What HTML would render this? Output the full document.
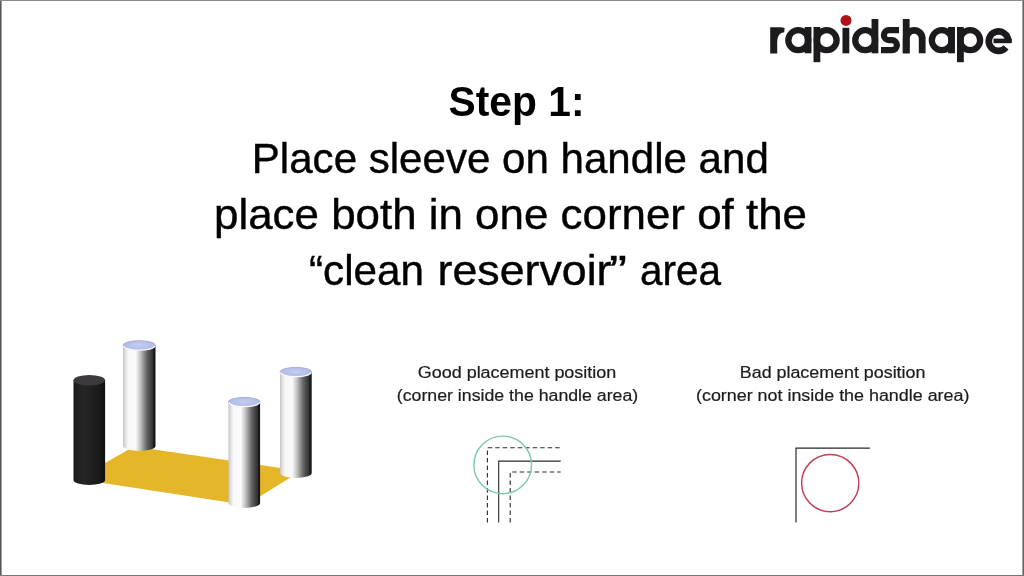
<!DOCTYPE html>
<html><head><meta charset="utf-8">
<style>
html,body{margin:0;padding:0;background:#fff;}
body{width:1024px;height:576px;overflow:hidden;position:relative;font-family:"Liberation Sans",sans-serif;}
svg{position:absolute;left:0;top:0;filter:blur(0.35px);}
</style></head>
<body>
<svg width="1024" height="576" viewBox="0 0 1024 576">
<defs>
  <linearGradient id="wbody" x1="0" y1="0" x2="1" y2="0">
    <stop offset="0" stop-color="#c4c4c8"/>
    <stop offset="0.06" stop-color="#dcdce0"/>
    <stop offset="0.16" stop-color="#f8f8fa"/>
    <stop offset="0.39" stop-color="#fafafa"/>
    <stop offset="0.45" stop-color="#e2e2e2"/>
    <stop offset="0.54" stop-color="#c0c0c0"/>
    <stop offset="0.64" stop-color="#909090"/>
    <stop offset="0.74" stop-color="#626262"/>
    <stop offset="0.85" stop-color="#424242"/>
    <stop offset="0.92" stop-color="#303030"/>
    <stop offset="0.94" stop-color="#1a1a1a"/>
    <stop offset="1" stop-color="#161616"/>
  </linearGradient>
  <linearGradient id="bbody" x1="0" y1="0" x2="1" y2="0">
    <stop offset="0" stop-color="#1a1a1a"/>
    <stop offset="0.3" stop-color="#262626"/>
    <stop offset="0.8" stop-color="#1a1a1a"/>
    <stop offset="1" stop-color="#0e0e0e"/>
  </linearGradient>
  <radialGradient id="wtop" cx="0.5" cy="0.45" r="0.6">
    <stop offset="0" stop-color="#c4cdf2"/>
    <stop offset="1" stop-color="#aab6e6"/>
  </radialGradient>
</defs>
<rect x="0" y="0" width="1024" height="576" fill="#fff"/>

<!-- logo -->
<g fill="#1c1a1d" stroke="none">
  <path d="M770.2 53.5V27.3H780Q783 27.3 784.6 28L784.2 32.2Q777.2 32.6 777.2 42V53.5Z"/>
  <rect x="804.65" y="27" width="6.8" height="26.3"/>
  <rect x="813.5" y="27" width="6.8" height="35.2"/>
  <rect x="842.5" y="27.8" width="6.8" height="25.5"/>
  <rect x="871.55" y="19" width="6.8" height="34.3"/>
  <rect x="902.8" y="19" width="6.8" height="34.3"/>
  <rect x="948.15" y="27" width="6.8" height="26.3"/>
  <rect x="957" y="27" width="6.8" height="35.2"/>
</g>
<g fill="none" stroke="#1c1a1d" stroke-width="6.8">
  <circle cx="798.3" cy="40.15" r="9.95" stroke-width="6.3"/>
  <circle cx="826.65" cy="40.15" r="9.95" stroke-width="6.3"/>
  <circle cx="865.2" cy="40.15" r="9.95" stroke-width="6.3"/>
  <path stroke-width="6.2" d="M899 30.1H888.9A5.025 5.025 0 0 0 888.9 40.15H891.9A5.025 5.025 0 0 1 891.9 50.2H881"/>
  <path d="M906.2 53.3V38.4A8 8 0 0 1 922.2 38.4V53.3"/>
  <circle cx="941.8" cy="40.15" r="9.95" stroke-width="6.3"/>
  <circle cx="970.15" cy="40.15" r="9.95" stroke-width="6.3"/>
  <path stroke-width="6.6" d="M1008.25 40.8A9.75 9.75 0 1 0 1006 47.4"/>
</g>
<rect x="993.5" y="38.6" width="18.3" height="4.6" fill="#1c1a1d"/>
<circle cx="846" cy="20.4" r="5.5" fill="#b0121b"/>

<!-- title -->
<g fill="#000" stroke="#000" stroke-width="0.4" font-family="Liberation Sans, sans-serif">
  <text x="448.5" y="116" font-size="43" font-weight="bold" stroke="none" textLength="136" lengthAdjust="spacingAndGlyphs">Step 1:</text>
  <text x="251.8" y="172.5" font-size="43" textLength="517" lengthAdjust="spacingAndGlyphs">Place sleeve on handle and</text>
  <text x="214" y="229" font-size="43" textLength="593" lengthAdjust="spacingAndGlyphs">place both in one corner of the</text>
  <text x="309" y="285" font-size="43" textLength="115" lengthAdjust="spacingAndGlyphs">“clean</text><text x="437.5" y="285" font-size="43" textLength="174" lengthAdjust="spacingAndGlyphs">reservoir</text><text x="609" y="285" font-size="43" textLength="18" lengthAdjust="spacingAndGlyphs">”</text><text x="640" y="285" font-size="43" textLength="81" lengthAdjust="spacingAndGlyphs">area</text>
</g>

<!-- yellow floor -->
<polygon points="134,446.5 301,471 246,505 77,479" fill="#e4b628"/>

<!-- cylinders -->
<!-- back-left white -->
<g>
  <path d="M123 345.4V446A16.25 5 0 0 0 155.5 446V345.4Z" fill="url(#wbody)"/>
  <ellipse cx="139.25" cy="345.4" rx="16.25" ry="4.7" fill="url(#wtop)" stroke="#9ea6c6" stroke-width="0.8"/><path d="M123.6 345.7A15.65 4.4 0 0 0 154.9 345.7" fill="none" stroke="#fbfbff" stroke-width="1.3"/>
</g>
<!-- black -->
<g>
  <path d="M73.5 380.2V480A15.8 5 0 0 0 105.1 480V380.2Z" fill="url(#bbody)"/>
  <ellipse cx="89.3" cy="380.2" rx="15.8" ry="5.2" fill="#3c3a3c"/>
</g>
<!-- back-right white -->
<g>
  <path d="M280 372V473A15.85 5 0 0 0 311.7 473V372Z" fill="url(#wbody)"/>
  <ellipse cx="295.85" cy="372.0" rx="15.85" ry="4.6" fill="url(#wtop)" stroke="#9ea6c6" stroke-width="0.8"/><path d="M280.6 372.3A15.25 4.3 0 0 0 311.1 372.3" fill="none" stroke="#fbfbff" stroke-width="1.3"/>
</g>
<!-- front white -->
<g>
  <path d="M228.4 402V503A15.85 5 0 0 0 260.1 503V402Z" fill="url(#wbody)"/>
  <ellipse cx="244.25" cy="402.0" rx="15.85" ry="4.6" fill="url(#wtop)" stroke="#9ea6c6" stroke-width="0.8"/><path d="M229.0 402.3A15.25 4.3 0 0 0 259.5 402.3" fill="none" stroke="#fbfbff" stroke-width="1.3"/>
</g>

<!-- captions -->
<g fill="#1c1c1c" stroke="#1c1c1c" stroke-width="0.2" font-family="Liberation Sans, sans-serif" font-size="16">
  <text x="417.8" y="378" textLength="198.4" lengthAdjust="spacingAndGlyphs">Good placement position</text>
  <text x="396.8" y="401" textLength="241.4" lengthAdjust="spacingAndGlyphs">(corner inside the handle area)</text>
  <text x="739.8" y="378" textLength="185.6" lengthAdjust="spacingAndGlyphs">Bad placement position</text>
  <text x="696" y="401" textLength="273.4" lengthAdjust="spacingAndGlyphs">(corner not inside the handle area)</text>
</g>

<!-- good diagram -->
<g fill="none" stroke="#2a2a2a" stroke-width="1.1">
  <path d="M487.4 522.5V447.8H560.7" stroke-dasharray="4.5 3"/>
  <path d="M498.7 522.5V461.1H560.7"/>
  <path d="M510.2 522.5V472H560.7" stroke-dasharray="4.5 3"/>
</g>
<circle cx="502.7" cy="464.9" r="28.8" fill="none" stroke="#7ec8ad" stroke-width="1.45"/>

<!-- bad diagram -->
<path d="M796 522.4V448.2H869.9" fill="none" stroke="#2a2a2a" stroke-width="1.2"/>
<circle cx="830.2" cy="483.1" r="28.6" fill="none" stroke="#c23c58" stroke-width="1.45"/>

<!-- frame border -->
<rect x="0" y="0" width="1" height="576" fill="#555"/>
<rect x="1" y="0" width="1" height="576" fill="#a0a0a0"/>
<rect x="0" y="0" width="1024" height="1" fill="#8a8a8a"/>
<rect x="1022" y="0" width="1" height="576" fill="#a0a0a0"/>
<rect x="1023" y="0" width="1" height="576" fill="#666"/>
<rect x="0" y="575" width="1024" height="1" fill="#777"/>
</svg>
</body></html>
